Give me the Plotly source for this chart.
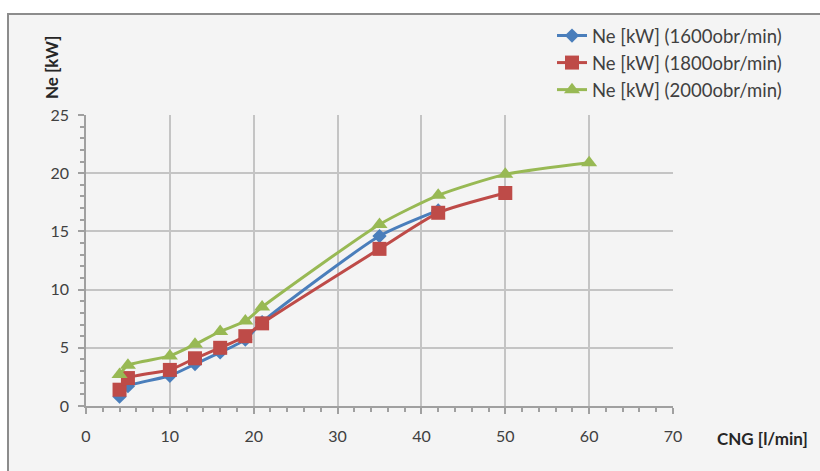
import plotly.graph_objects as go

# Data
x_1600 = [4, 5, 10, 13, 16, 19, 21, 35, 42]
y_1600 = [0.8, 1.7, 2.6, 3.6, 4.6, 5.7, 7.2, 14.6, 16.8]
x_1800 = [4, 5, 10, 13, 16, 19, 21, 35, 42, 50]
y_1800 = [1.4, 2.4, 3.1, 4.1, 5.0, 6.0, 7.1, 13.5, 16.6, 18.3]
x_2000 = [4, 5, 10, 13, 16, 19, 21, 35, 42, 50, 60]
y_2000 = [2.7, 3.5, 4.3, 5.3, 6.4, 7.3, 8.5, 15.6, 18.1, 19.9, 20.9]
names = ["Ne [kW] (1600obr/min)", "Ne [kW] (1800obr/min)", "Ne [kW] (2000obr/min)"]
x_ticks = [0, 10, 20, 30, 40, 50, 60, 70]
y_ticks = [0, 5, 10, 15, 20, 25]

BLUE = "#4a7ebb"
RED = "#be4b48"
GREEN = "#98b954"
FONT = "Lato"
TXT = "#404040"

fig = go.Figure()
fig.add_trace(go.Scatter(x=x_1600, y=y_1600, name=names[0], mode="lines+markers",
                         line=dict(color=BLUE, width=3, shape="spline", smoothing=0.6),
                         marker=dict(symbol="diamond", size=11, color=BLUE),
                         legendgroup="a"))
fig.add_trace(go.Scatter(x=x_1800, y=y_1800, name=names[1], mode="lines+markers",
                         line=dict(color=RED, width=3, shape="spline", smoothing=0.6),
                         marker=dict(symbol="square", size=14, color=RED),
                         legendgroup="b"))
fig.add_trace(go.Scatter(x=x_2000, y=y_2000, name=names[2], mode="lines+markers",
                         line=dict(color=GREEN, width=3, shape="spline", smoothing=0.6),
                         marker=dict(symbol="triangle-up", size=14, color=GREEN),
                         legendgroup="c"))

L, R, T, B = 86, 673, 115, 406
pw, ph = R - L, B - T

def px(p):
    return (p - L) / pw

def py(p):
    return (B - p) / ph

fig.add_shape(type="rect", xref="paper", yref="paper",
              x0=px(8), x1=px(830), y0=py(480), y1=py(14),
              line=dict(color="#8c8c8c", width=2), fillcolor="#f4f4f4", layer="below")

fig.update_layout(
    width=820, height=471,
    margin=dict(l=L, r=820 - R, t=T, b=471 - B),
    paper_bgcolor="white", plot_bgcolor="#f4f4f4",
    font=dict(family=FONT, size=16, color=TXT),
    showlegend=True,
    legend=dict(x=px(552), y=py(17), xanchor="left", yanchor="top",
                bgcolor="rgba(0,0,0,0)", font=dict(family=FONT, size=18.5, color=TXT),
                tracegroupgap=0),
    xaxis=dict(range=[0, 70], tickvals=x_ticks, showgrid=True, gridcolor="#c4c4c4", gridwidth=2,
               showline=True, linecolor="#a0a0a0", linewidth=1.5, ticks="outside", ticklen=6,
               tickcolor="#a0a0a0", tickwidth=1.5, zeroline=False, ticklabelstandoff=9,
               tickfont=dict(size=16, color=TXT),
               minor=dict(dtick=2, ticks="outside", ticklen=4, tickcolor="#a0a0a0", showgrid=False)),
    yaxis=dict(range=[0, 25], tickvals=y_ticks, showgrid=True, gridcolor="#c4c4c4", gridwidth=2,
               showline=True, linecolor="#a0a0a0", linewidth=1.5, ticks="outside", ticklen=6,
               tickcolor="#a0a0a0", tickwidth=1.5, zeroline=False, ticklabelstandoff=6,
               tickfont=dict(size=16, color=TXT),
               minor=dict(dtick=1, ticks="outside", ticklen=4, tickcolor="#a0a0a0", showgrid=False)),
    annotations=[
        dict(text="<b>Ne [kW]</b>", xref="paper", yref="paper", x=px(52), y=py(68),
             xanchor="center", yanchor="middle",
             textangle=-90, showarrow=False, font=dict(family=FONT, size=17, color="#262626")),
        dict(text="<b>CNG [l/min]</b>", xref="paper", yref="paper", x=px(762), y=py(438),
             xanchor="center", yanchor="middle",
             showarrow=False, font=dict(family=FONT, size=17, color="#262626")),
    ],
)

fig.write_html("out.html")
